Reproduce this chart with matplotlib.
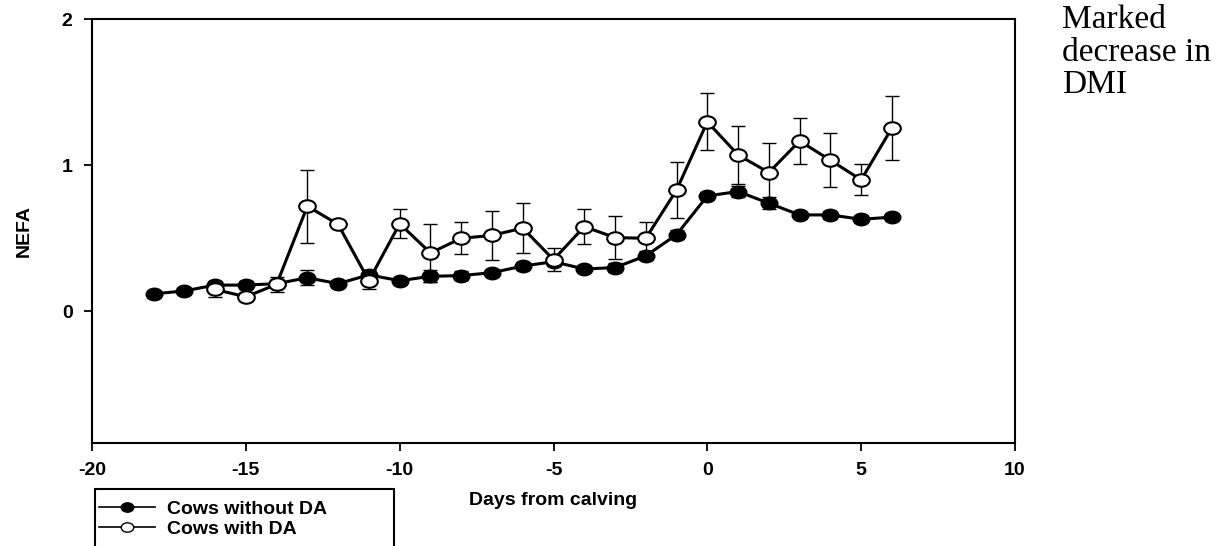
import matplotlib
matplotlib.use("Agg")
import matplotlib.pyplot as plt
from matplotlib.lines import Line2D
from matplotlib.patches import Rectangle
from matplotlib.path import Path
from matplotlib.transforms import Affine2D

# ---- data ----
days_without = list(range(-18, 7))
nefa_without = [0.12, 0.14, 0.18, 0.18, 0.19, 0.23, 0.19, 0.25, 0.21, 0.24, 0.245, 0.265,
                0.31, 0.34, 0.29, 0.30, 0.38, 0.525, 0.79, 0.82, 0.74, 0.66, 0.66, 0.63, 0.645]
se_without = [0.02, 0.02, 0.03, 0.03, 0.03, 0.05, 0.02, 0.03, 0.02, 0.04, 0.03, 0.02,
              0.03, 0.03, 0.02, 0.03, 0.03, 0.03, 0.03, 0.04, 0.04, 0.02, 0.03, 0.02, 0.02]

days_with = list(range(-16, 7))
nefa_with = [0.15, 0.10, 0.185, 0.72, 0.595, 0.21, 0.60, 0.40, 0.50, 0.52, 0.57, 0.354,
             0.58, 0.505, 0.50, 0.83, 1.297, 1.07, 0.95, 1.166, 1.034, 0.90, 1.255]
se_with = [0.05, 0.03, 0.05, 0.25, 0.02, 0.06, 0.10, 0.20, 0.11, 0.17, 0.17, 0.08,
           0.12, 0.145, 0.11, 0.19, 0.195, 0.20, 0.20, 0.155, 0.185, 0.105, 0.22]

x_ticks = [-20, -15, -10, -5, 0, 5, 10]
y_ticks = [0, 1, 2]
label_without = "Cows without DA"
label_with = "Cows with DA"
note_text = "Marked\ndecrease in\nDMI"

plt.rcParams['font.family'] = ['Liberation Sans', 'DejaVu Sans']

# slightly wide elliptical marker (as in the scanned original)
ellipse = Affine2D().scale(1.0, 0.75).transform_path(Path.unit_circle())

W, H = 1219, 546
fig = plt.figure(figsize=(W / 100, H / 100), dpi=100)
ax = fig.add_axes([92 / W, 1 - 443 / H, (1015 - 92) / W, (443 - 19) / H])

ax.errorbar(days_without, nefa_without, yerr=se_without, fmt='none', ecolor='black',
            elinewidth=1.0, capsize=5, capthick=1.0, zorder=2)
ax.errorbar(days_with, nefa_with, yerr=se_with, fmt='none', ecolor='black',
            elinewidth=1.0, capsize=5, capthick=1.0, zorder=2)
ax.plot(days_without, nefa_without, color='black', lw=2.2, marker=ellipse, ms=12,
        mfc='black', mec='black', zorder=3)
ax.plot(days_with, nefa_with, color='black', lw=2.2, marker=ellipse, ms=12,
        mfc='white', mec='black', mew=1.5, zorder=4)

ax.set_xlim(-20, 10)
ax.set_ylim(-0.9, 2)
ax.set_xticks(x_ticks)
ax.set_yticks(y_ticks)
ax.set_xticklabels([str(t) for t in x_ticks])
ax.set_yticklabels([str(t) for t in y_ticks])
ax.tick_params(axis='both', direction='out', length=6, width=1.3, labelsize=14, pad=8)
for lbl in ax.get_xticklabels() + ax.get_yticklabels():
    lbl.set_fontweight('bold')
for s in ax.spines.values():
    s.set_linewidth(1.5)
    s.set_color('black')

ax.set_xlabel("Days from calving", fontsize=14, fontweight='bold', labelpad=9)
ax.set_ylabel("NEFA", fontsize=14, fontweight='bold', labelpad=21)

# legend with frame running off the bottom
fig.patches.append(Rectangle((95 / W, -0.05), (394 - 95) / W, 0.05 + 1 - 489 / H,
                             transform=fig.transFigure, fill=False, edgecolor='black', lw=1.5))
handles = [Line2D([], [], color='black', lw=1.2, marker=ellipse, ms=9, mfc='black', mec='black'),
           Line2D([], [], color='black', lw=1.2, marker=ellipse, ms=9, mfc='white', mec='black')]
fig.legend(handles, [label_without, label_with], loc='upper left',
           bbox_to_anchor=(99 / W, 1 - 500 / H), frameon=False,
           prop={'size': 14, 'weight': 'bold'},
           handlelength=2.9, handletextpad=0.6, labelspacing=0.12, borderpad=0,
           borderaxespad=0)

fig.text(1062 / W, 1 - 5 / H, note_text, family='Liberation Serif', fontsize=24,
         va='top', ha='left', linespacing=1.08)

fig.savefig("out.png", dpi=100)
